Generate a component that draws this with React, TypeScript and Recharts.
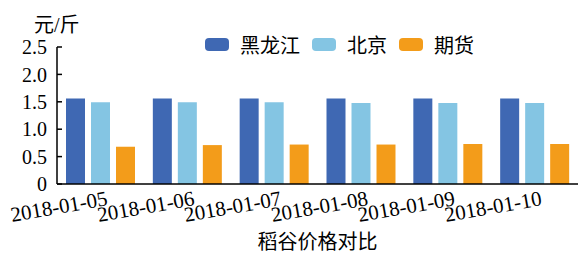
import React from "react";
import { BarChart, Bar, XAxis, YAxis } from "recharts";

const dates = ["2018-01-05", "2018-01-06", "2018-01-07", "2018-01-08", "2018-01-09", "2018-01-10"];
const heilongjiang = [1.56, 1.56, 1.56, 1.56, 1.56, 1.56];
const beijing = [1.49, 1.49, 1.49, 1.48, 1.48, 1.48];
const futures = [0.68, 0.71, 0.72, 0.72, 0.73, 0.73];
const yTicks = [0, 0.5, 1, 1.5, 2, 2.5];

const series = [
  { key: "hlj", name: "黑龙江", values: heilongjiang, color: "#3F68B3" },
  { key: "bj", name: "北京", values: beijing, color: "#84C5E3" },
  { key: "qh", name: "期货", values: futures, color: "#F39C1A" },
];

const data = dates.map((d, i) => ({
  date: d,
  hlj: heilongjiang[i],
  bj: beijing[i],
  qh: futures[i],
}));

const FONT = "'Liberation Serif', 'Times New Roman', 'Noto Sans CJK SC', serif";

function DateTick(props: any) {
  const { x, y, payload } = props;
  const ex = x + 8;
  const ey = y + 13;
  return (
    <text
      x={ex}
      y={ey}
      textAnchor="end"
      style={{ fontSize: 21, fontFamily: FONT }}
      fill="#000"
      transform={`rotate(-10, ${ex}, ${ey})`}
    >
      {payload.value}
    </text>
  );
}

export default function App() {
  return (
    <div style={{ position: "absolute", left: 0, top: 0, width: 581, height: 253, background: "#fff", fontFamily: FONT }}>
      <div style={{ position: "absolute", left: 34, top: 9, fontSize: 20, color: "#000" }}>元/斤</div>
      <div
        style={{
          position: "absolute",
          left: 205,
          top: 30,
          display: "flex",
          alignItems: "center",
          fontSize: 20,
          color: "#000",
        }}
      >
        {series.map((s) => (
          <div key={s.key} style={{ display: "flex", alignItems: "center", marginRight: 12 }}>
            <span
              style={{
                width: 24,
                height: 13,
                borderRadius: 4,
                background: s.color,
                display: "inline-block",
                marginRight: 11,
              }}
            />
            <span>{s.name}</span>
          </div>
        ))}
      </div>
      <BarChart
        width={581}
        height={253}
        data={data}
        margin={{ top: 47, right: 3, left: 0, bottom: 0 }}
        barGap={6}
        barCategoryGap={10}
        style={{ fontFamily: FONT }}
      >
        <XAxis
          dataKey="date"
          interval={0}
          tickLine={false}
          axisLine={{ stroke: "#000", strokeWidth: 1.5 }}
          tick={<DateTick />}
          height={69}
          label={{
            value: "稻谷价格对比",
            position: "insideBottom",
            offset: 4,
            style: { fontSize: 20, fontFamily: FONT, fill: "#000" },
          }}
        />
        <YAxis
          width={57}
          domain={[0, 2.5]}
          ticks={yTicks}
          interval={0}
          tickSize={-5}
          tickMargin={15}
          tickLine={{ stroke: "#000", strokeWidth: 1.5 }}
          axisLine={{ stroke: "#000", strokeWidth: 1.5 }}
          tickFormatter={(v: number) => (v === 0 ? "0" : v.toFixed(1))}
          tick={{ fill: "#000", style: { fontSize: 20, fontFamily: FONT } }}
        />
        {series.map((s) => (
          <Bar
            key={s.key}
            dataKey={s.key}
            name={s.name}
            fill={s.color}
            barSize={19}
            isAnimationActive={false}
          />
        ))}
      </BarChart>
    </div>
  );
}
